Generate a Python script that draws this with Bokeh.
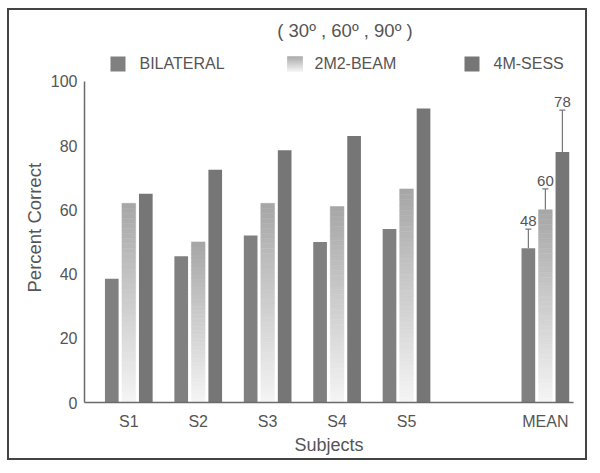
import numpy as np
from bokeh.plotting import figure
from bokeh.models import Range1d, FixedTicker, Label, Whisker, ColumnDataSource, TeeHead, Title
from bokeh.core.properties import value
from bokeh.embed import file_html
from bokeh.resources import INLINE

# ---- data ----
subjects = ["S1", "S2", "S3", "S4", "S5"]
subject_pos = [1, 2, 3, 4, 5]
mean_label = "MEAN"
mean_pos = 7
series_names = ["BILATERAL", "2M2-BEAM", "4M-SESS"]
bilateral = [38.5, 45.5, 52.0, 50.0, 54.0]
beam = [62.0, 50.0, 62.0, 61.0, 66.5]
sess = [65.0, 72.5, 78.5, 83.0, 91.5]
means = [48, 60, 78]
mean_err = [6.0, 6.5, 13.0]
y_ticks = [0, 20, 40, 60, 80, 100]
title_text = "( 30\u00ba , 60\u00ba , 90\u00ba )"
x_title = "Subjects"
y_title = "Percent Correct"

# ---- style ----
FONT = "Liberation Sans"
TXT = "#555555"
C_BIL = "#808080"
C_SESS = "#767676"
GRAD_TOP = 166
GRAD_BOT = 245
OFF = 0.245
W = 0.197

X0, X1 = 0.362, 7.405
Y0, Y1 = 0.0, 122.04

p = figure(width=580, height=452, output_backend="svg", toolbar_location=None,
           x_range=Range1d(X0, X1), y_range=Range1d(Y0, Y1),
           min_border_left=75, min_border_right=16, min_border_top=0, min_border_bottom=60,
           styles={"border": "2px solid #444444", "margin-left": "7px", "margin-top": "8px"})
p.outline_line_color = None
p.grid.visible = False
p.background_fill_color = "white"
p.border_fill_color = "white"

xs = np.array(subject_pos + [mean_pos], dtype=float)
bil_all = np.array(bilateral + [means[0]], dtype=float)
beam_all = np.array(beam + [means[1]], dtype=float)
sess_all = np.array(sess + [means[2]], dtype=float)

p.vbar(x=xs - OFF, top=bil_all, bottom=0, width=W, fill_color=C_BIL, line_color=None)
p.vbar(x=xs + OFF, top=sess_all, bottom=0, width=W, fill_color=C_SESS, line_color=None)

# gradient bars (2M2-BEAM)
N = 40
def grad_color(i, n):
    t = (i + 0.5) / n  # 0 bottom, 1 top
    g = int(round(GRAD_BOT + (GRAD_TOP - GRAD_BOT) * t))
    return "#%02x%02x%02x" % (g, g, g)

L, R, B, T, C = [], [], [], [], []
for x, v in zip(xs, beam_all):
    for i in range(N):
        L.append(x - W / 2); R.append(x + W / 2)
        B.append(v * i / N); T.append(v * (i + 1) / N)
        C.append(grad_color(i, N))
p.quad(left=L, right=R, bottom=B, top=T, fill_color=C, line_color=C, line_width=0.5)

# error bars on mean
mx = np.array([mean_pos - OFF, mean_pos, mean_pos + OFF])
mv = np.array(means, dtype=float)
me = np.array(mean_err, dtype=float)
esrc = ColumnDataSource(dict(base=mx, lower=mv, upper=mv + me,
                             lbl=[str(m) for m in means]))
wh = Whisker(base="base", lower="lower", upper="upper", source=esrc,
             line_color="#777777", line_width=1.2,
             upper_head=TeeHead(size=6, line_color="#777777", line_width=1.2),
             lower_head=None)
p.add_layout(wh)
p.text(x="base", y="upper", text="lbl", source=esrc, text_align="center",
       text_baseline="bottom", y_offset=-3, text_font=value(FONT),
       text_font_size="15px", text_color=TXT)

# axes
for ax in (p.xaxis[0], p.yaxis[0]):
    ax.axis_line_color = "#6a6a6a"
    ax.axis_line_width = 1.5
    ax.major_tick_line_color = None
    ax.minor_tick_line_color = None
    ax.major_tick_out = 0
    ax.major_tick_in = 0
    ax.major_label_text_font = FONT
    ax.major_label_text_font_size = "16px"
    ax.major_label_text_color = TXT

p.yaxis.ticker = FixedTicker(ticks=y_ticks)
p.yaxis.bounds = (0, 100)
p.yaxis.major_label_standoff = 7
p.xaxis.ticker = FixedTicker(ticks=subject_pos + [mean_pos])
p.xaxis.major_label_overrides = {k: v for k, v in zip(subject_pos + [mean_pos], subjects + [mean_label])}
p.xaxis.major_label_standoff = 10
p.xaxis.axis_label = x_title
p.xaxis.axis_label_text_font = FONT
p.xaxis.axis_label_text_font_size = "18px"
p.xaxis.axis_label_text_font_style = "normal"
p.xaxis.axis_label_text_color = TXT
p.xaxis.axis_label_standoff = 2

# y title as a side title (starts 110px above the frame bottom)
p.add_layout(Title(text=y_title, align="left", offset=110, text_font=FONT,
                   text_font_size="18.5px", text_font_style="normal",
                   text_color=TXT, standoff=6), "left")

def px2x(px):
    return 1 + (px - 128.3) / 69.43

def py2y(py):
    return (402 - py) / 3.212

# title
p.add_layout(Label(x=px2x(344.5), y=py2y(30), text=title_text, text_align="center",
                   text_baseline="middle", text_font=FONT, text_font_size="18.5px",
                   text_color=TXT))

# legend
sq_left = [110, 287, 464]
txt_left = [139, 314, 493]
sq_top, sq_bot = 56, 71
p.quad(left=[px2x(sq_left[0])], right=[px2x(sq_left[0] + 15)], bottom=[py2y(sq_bot)],
       top=[py2y(sq_top)], fill_color=C_BIL, line_color=None)
p.quad(left=[px2x(sq_left[2])], right=[px2x(sq_left[2] + 15)], bottom=[py2y(sq_bot)],
       top=[py2y(sq_top)], fill_color=C_SESS, line_color=None)
NL = 15
lc = [grad_color(i, NL) for i in range(NL)]
yb = py2y(sq_bot); yt = py2y(sq_top)
p.quad(left=[px2x(sq_left[1])] * NL, right=[px2x(sq_left[1] + 15)] * NL,
       bottom=[yb + (yt - yb) * i / NL for i in range(NL)],
       top=[yb + (yt - yb) * (i + 1) / NL for i in range(NL)],
       fill_color=lc, line_color=lc, line_width=0.5)
for name, tl in zip(series_names, txt_left):
    p.add_layout(Label(x=px2x(tl), y=py2y(63.5), text=name, text_align="left",
                       text_baseline="middle", text_font=FONT, text_font_size="16px",
                       text_color=TXT))

open("out.html", "w").write(file_html(p, INLINE))
